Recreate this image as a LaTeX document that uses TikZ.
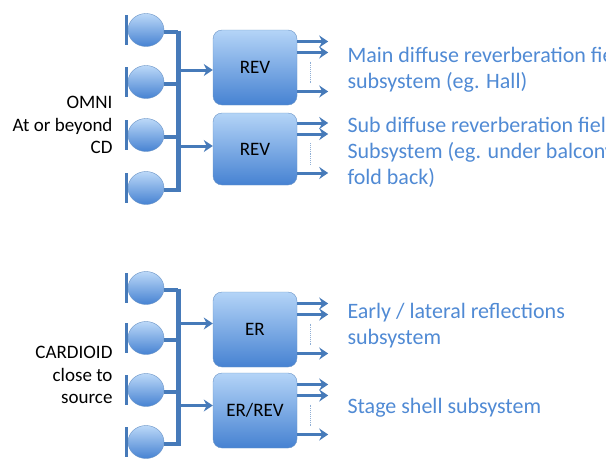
\documentclass[tikz,border=0pt]{standalone}
\usepackage{fontspec}
\setmainfont{Carlito}
\usetikzlibrary{calc, arrows.meta, shapes.geometric}

\definecolor{wireblue}{RGB}{70,122,185}
\definecolor{boxtop}{RGB}{180,212,247}
\definecolor{boxbot}{RGB}{70,130,210}
\definecolor{textblue}{RGB}{80,138,212}

\tikzset{
    proc/.style={draw=wireblue!80, rounded corners=9pt, top color=boxtop,
        bottom color=boxbot, minimum width=84pt, font=\fontsize{19}{22}\selectfont},
    mic/.style={ellipse, draw=wireblue!80, top color=boxtop!90,
        bottom color=boxbot, minimum width=36pt, minimum height=33pt, inner sep=0pt},
    wire/.style={draw=wireblue, line width=3.2pt},
    bus/.style={draw=wireblue, line width=5pt},
    sig/.style={draw=wireblue, line width=3pt, -{Stealth[length=9pt, width=12pt]}},
    more/.style={draw=wireblue!60, densely dotted, line width=0.9pt},
    group/.style={align=right, anchor=east, font=\fontsize{19}{22.5}\selectfont},
    sub/.style={align=left, anchor=west, text=textblue, font=\fontsize{22}{26}\selectfont}
}

\begin{document}
\begin{tikzpicture}[x=1pt, y=-1pt]
    \clip (0,0) rectangle (606,461);

    % microphones
    \foreach \i/\y in {1/30, 2/82, 3/135, 4/188, 5/288, 6/338, 7/390, 8/442}{
        \node[mic] (m\i) at (146,\y) {};
        \draw[wire] ($(m\i.west)+(-1.5,-15)$) -- ++(0,30);
    }
    \coordinate (b1) at (178,0);

    % processors
    \node[proc, minimum height=75pt] (rev1) at (255,67.5) {REV};
    \node[proc, minimum height=72pt] (rev2) at (255,149) {REV};
    \node[proc, minimum height=75pt] (er) at (255,329.5) {ER};
    \node[proc, minimum height=75pt] (errev) at (255,410.5) {ER/REV};

    % wiring to the bus
    \foreach \i in {1,...,8}
        \draw[wire] ($(m\i.east)+(0,2)$) -- ($(m\i.east -| b1)+(0,2)$);
    \draw[bus] ($(m1.east -| b1)+(0,0.5)$) -- ($(m4.east -| b1)+(0,3.5)$);
    \draw[bus] ($(m5.east -| b1)+(0,0.5)$) -- ($(m8.east -| b1)+(0,3.5)$);
    \draw[sig] ($(b1 |- rev1)+(0,2.5)$) -- ($(rev1.west)+(0,2.5)$);
    \draw[sig] ($(b1 |- rev2)+(0,-3)$) -- ($(rev2.west)+(0,-3)$);
    \draw[sig] ($(b1 |- er)+(0,-6)$) -- ($(er.west)+(0,-6)$);
    \draw[sig] ($(b1 |- errev)+(0,-5)$) -- ($(errev.west)+(0,-5)$);

    % outputs
    \foreach \b in {rev1, rev2, er, errev}{
        \foreach \dy in {-26,-15,24}
            \draw[sig] ($(\b.east)+(0,\dy)$) -- ++(31,0);
        \draw[more] ($(\b.east)+(13,-6)$) -- ++(0,22);
    }

    % labels
    \node[group] (omni) at (116,125) {OMNI\\At or beyond\\CD};
    \node[group] (card) at (116,375) {CARDIOID\\close to\\source};
    \node[sub] (t1) at (344,70) {Main diffuse reverberation field\\subsystem (eg. Hall)};
    \node[sub] (t2) at (344,152) {Sub diffuse reverberation field\\Subsystem (eg. under balcony,\\fold back)};
    \node[sub] (t3) at (344,326) {Early / lateral reflections\\subsystem};
    \node[sub] (t4) at (344,408) {Stage shell subsystem};
\end{tikzpicture}
\end{document}
